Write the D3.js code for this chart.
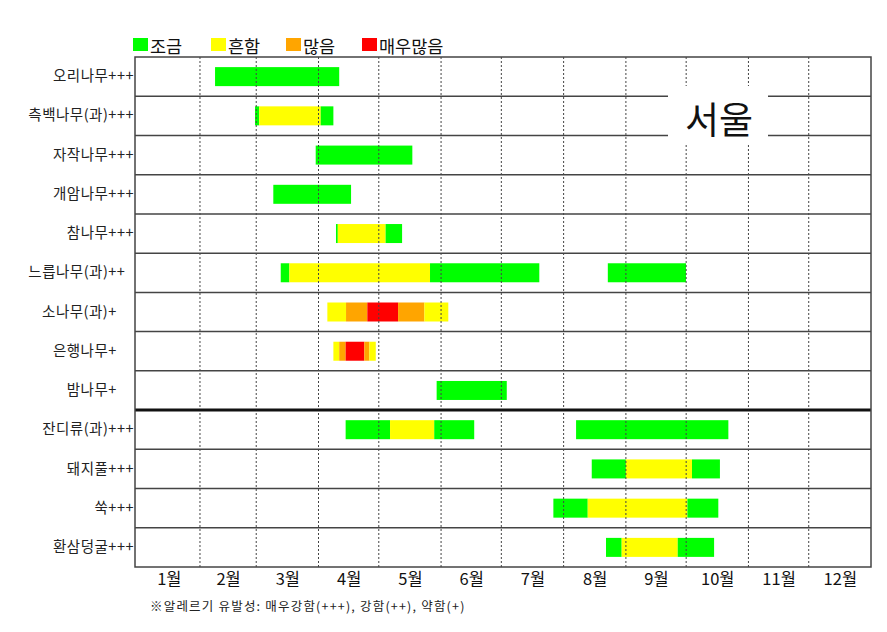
<!DOCTYPE html>
<html><head><meta charset="utf-8">
<script src="https://cdn.jsdelivr.net/npm/d3@7"></script>
<style>
body{margin:0;background:#fff;}
text{font-family:"Noto Sans CJK KR","Noto Sans",sans-serif;}
</style></head>
<body>
<svg id="chart" width="887" height="632"></svg>
<script>
// ---- data ----
const plants = ["오리나무","측백나무(과)","자작나무","개암나무","참나무","느릅나무(과)","소나무(과)","은행나무","밤나무","잔디류(과)","돼지풀","쑥","환삼덩굴"];
const allergenicity = [3,3,3,3,3,2,1,1,1,3,3,3,3];
const levels = ["조금","흔함","많음","매우많음"];
const levelColors = ["#00ff00","#ffff00","#ffa500","#ff0000"];
const monthLabels = ["1월","2월","3월","4월","5월","6월","7월","8월","9월","10월","11월","12월"];
const monthDays = [31,28,31,30,31,30,31,31,30,31,30,31];
const region = "서울";
const footnote = "※알레르기 유발성: 매우강함(+++), 강함(++), 약함(+)";
// [plant index, start day-of-year, end day-of-year, level index]
const periods = [
  [0,38.5,100.3,0],
  [1,58.4,60.5,0],[1,60.5,91.1,1],[1,91.1,97.4,0],
  [2,88.6,136.7,0],
  [3,67.5,106.2,0],
  [4,98.7,99.6,0],[4,99.6,123.4,1],[4,123.4,131.6,0],
  [5,71.2,75.5,0],[5,75.5,145.5,1],[5,145.5,199.9,0],[5,234,272.9,0],
  [6,94.4,103.7,1],[6,103.7,114.3,2],[6,114.3,129.6,3],[6,129.6,142.7,2],[6,142.7,154.6,1],
  [7,97.4,100.3,1],[7,100.3,103.5,2],[7,103.5,112.8,3],[7,112.8,115.3,2],[7,115.3,118.5,1],
  [8,148.8,183.7,0],
  [9,103.5,125.6,0],[9,125.6,147.6,1],[9,147.6,167.5,0],[9,218.2,294,0],
  [10,226,243,0],[10,243,275.9,1],[10,275.9,289.8,0],
  [11,206.9,224,0],[11,224,273.6,1],[11,273.6,289,0],
  [12,233.1,240.9,0],[12,240.9,268.8,1],[12,268.8,286.9,0]
];

// ---- layout ----
const svg = d3.select("#chart");
const L = 135, R = 871, T = 57, B = 567;
const x = d3.scaleLinear().domain([0,365]).range([137.7, R]);
const y = d3.scaleBand().domain(d3.range(plants.length)).range([T,B]);
const barH = 19;

const monthEnds = d3.cumsum(monthDays);
const monthStarts = [0, ...monthEnds.slice(0,-1)];
const monthCenters = monthStarts.map((s,i)=>s+monthDays[i]/2);

// bars
svg.append("g").selectAll("rect").data(periods).join("rect")
  .attr("x", d=>x(d[1]))
  .attr("width", d=>x(d[2])-x(d[1]))
  .attr("y", d=>y(d[0]) + (y.bandwidth()-barH)/2)
  .attr("height", barH)
  .attr("fill", d=>levelColors[d[3]]);

// month dotted lines
svg.append("g").selectAll("line").data(monthEnds.slice(0,-1)).join("line")
  .attr("x1", d=>x(d)).attr("x2", d=>x(d))
  .attr("y1", T).attr("y2", B)
  .attr("stroke", "#444").attr("stroke-width", 1)
  .attr("stroke-dasharray", "2,2");

// row lines
svg.append("g").selectAll("line").data(d3.range(1, plants.length)).join("line")
  .attr("x1", L).attr("x2", R)
  .attr("y1", d=>y(d)).attr("y2", d=>y(d))
  .attr("stroke", d=> d===9 ? "#111" : "#444")
  .attr("stroke-width", d=> d===9 ? 3 : 1.5);

// frame
svg.append("rect").attr("x", L).attr("y", T).attr("width", R-L).attr("height", B-T)
  .attr("fill","none").attr("stroke","#444").attr("stroke-width",1.5);

// region title with white box
svg.append("rect").attr("x", 668).attr("y", 86).attr("width", 100).attr("height", 58).attr("fill","#fff");
svg.append("text").attr("x", 719).attr("y", 134).attr("text-anchor","middle")
  .attr("font-size", 37).attr("fill","#111").text(region);

// x axis (months)
const xAxis = d3.axisBottom(x).tickValues(monthCenters).tickSize(0)
  .tickFormat((d,i)=>monthLabels[i]);
const gx = svg.append("g").attr("transform", `translate(0,${B})`).call(xAxis);
gx.select(".domain").remove();
gx.selectAll("text").attr("font-size", 16.5).attr("fill","#111")
  .attr("font-family","\"Noto Sans CJK KR\",sans-serif").attr("dy", null).attr("y", 18);

// y axis (plants)
const yAxis = d3.axisLeft(y).tickSize(0).tickFormat(i=>plants[i] + "+".repeat(allergenicity[i]));
const gy = svg.append("g").attr("transform", `translate(134,0)`).call(yAxis);
gy.select(".domain").remove();
gy.selectAll("text").attr("font-size", 14.5).attr("fill","#222")
  .attr("letter-spacing", 0.5)
  .attr("font-family","\"Noto Sans CJK KR\",sans-serif")
  .attr("x", i=> -(3-allergenicity[i])*8.6);

// legend
const legX = [133, 211, 286, 362];
const lg = svg.append("g").selectAll("g").data(levels).join("g")
  .attr("transform", (d,i)=>`translate(${legX[i]},0)`);
lg.append("rect").attr("x",0).attr("y",38).attr("width",15).attr("height",13)
  .attr("fill",(d,i)=>levelColors[i]);
lg.append("text").attr("x",17).attr("y",53).attr("font-size",17.5).attr("fill","#111").text(d=>d);

// footnote
svg.append("text").attr("x", 150).attr("y", 611).attr("font-size", 12.5)
  .attr("letter-spacing", 1.2).attr("fill","#222").text(footnote);
</script>
</body></html>
